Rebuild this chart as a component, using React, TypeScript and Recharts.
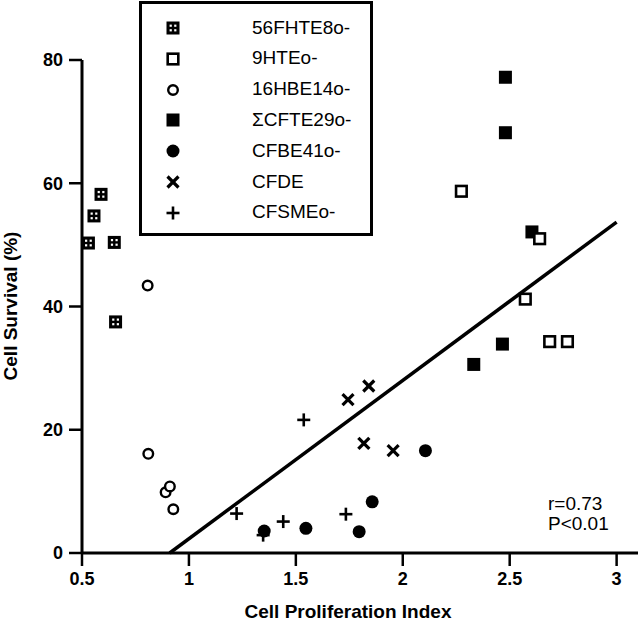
import React from 'react';
import { ScatterChart, Scatter, XAxis, YAxis, ReferenceLine, Legend, Customized } from 'recharts';

// cell lines, in legend order
const seriesNames = ['56FHTE8o-', '9HTEo-', '16HBE14o-', '\u03A3CFTE29o-', 'CFBE41o-', 'CFDE', 'CFSMEo-'];
const seriesKinds = ['grid', 'openSquare', 'openCircle', 'square', 'circle', 'cross', 'plus'];

const fhteX = [0.589, 0.556, 0.53, 0.651, 0.657];
const fhteY = [58.2, 54.7, 50.3, 50.4, 37.5];

const hteX = [2.274, 2.64, 2.573, 2.687, 2.77];
const hteY = [58.7, 51.0, 41.2, 34.3, 34.3];

const hbeX = [0.807, 0.81, 0.891, 0.911, 0.927];
const hbeY = [43.4, 16.1, 9.85, 10.8, 7.1];

const cfteX = [2.48, 2.48, 2.604, 2.466, 2.332];
const cfteY = [77.2, 68.2, 52.1, 33.9, 30.6];

const cfbeX = [1.352, 1.547, 1.796, 1.857, 2.106];
const cfbeY = [3.57, 4.0, 3.46, 8.3, 16.6];

const cfdeX = [1.744, 1.841, 1.818, 1.955];
const cfdeY = [24.9, 27.1, 17.8, 16.6];

const cfsmeX = [1.537, 1.223, 1.441, 1.347, 1.734];
const cfsmeY = [21.6, 6.4, 5.1, 2.9, 6.3];

// regression line end points
const fitX = [0.91, 3.0];
const fitY = [0, 53.7];

const xTicks = [0.5, 1, 1.5, 2, 2.5, 3];
const yTicks = [0, 20, 40, 60, 80];

const toPoints = (xs: number[], ys: number[]) => xs.map((x, i) => ({ x, y: ys[i] }));

const FONT = '"Liberation Sans", Arial, Helvetica, sans-serif';

const Marker = ({ kind, cx, cy }: { kind: string; cx: number; cy: number }) => {
  switch (kind) {
    case 'grid':
      return (
        <g>
          <rect x={cx - 6.5} y={cy - 6.5} width={13} height={13} fill="#000" />
          {[-1, 1].map((i) =>
            [-1, 1].map((j) => (
              <rect key={`${i}${j}`} x={cx + i * 2.3 - 1.1} y={cy + j * 2.3 - 1.1} width={2.2} height={2.2} fill="#fff" />
            ))
          )}
        </g>
      );
    case 'openSquare':
      return <rect x={cx - 5.3} y={cy - 5.3} width={10.6} height={10.6} fill="#fff" stroke="#000" strokeWidth={2.6} />;
    case 'openCircle':
      return <circle cx={cx} cy={cy} r={4.8} fill="#fff" stroke="#000" strokeWidth={2.4} />;
    case 'square':
      return <rect x={cx - 6.5} y={cy - 6.5} width={13} height={13} fill="#000" />;
    case 'circle':
      return <circle cx={cx} cy={cy} r={6.5} fill="#000" />;
    case 'cross':
      return (
        <g stroke="#000" strokeWidth={3.2}>
          <line x1={cx - 5.5} y1={cy - 5.5} x2={cx + 5.5} y2={cy + 5.5} />
          <line x1={cx - 5.5} y1={cy + 5.5} x2={cx + 5.5} y2={cy - 5.5} />
        </g>
      );
    default:
      return (
        <g stroke="#000" strokeWidth={2.6}>
          <line x1={cx - 6.5} y1={cy} x2={cx + 6.5} y2={cy} />
          <line x1={cx} y1={cy - 6.5} x2={cx} y2={cy + 6.5} />
        </g>
      );
  }
};

const shapeOf = (kind: string) => (p: any) => <Marker kind={kind} cx={p.cx} cy={p.cy} />;

const LegendBox = () => (
  <div
    style={{
      boxSizing: 'border-box',
      width: 234,
      height: 235,
      border: '3px solid #000',
      background: '#fff',
      paddingTop: 8.6,
      fontFamily: FONT,
      fontSize: 19,
      color: '#000',
    }}
  >
    {seriesNames.map((name, i) => (
      <div key={name} style={{ height: 30.8, display: 'flex', alignItems: 'center', position: 'relative' }}>
        <svg width={20} height={20} style={{ position: 'absolute', left: 21 }}>
          <Marker kind={seriesKinds[i]} cx={10} cy={10} />
        </svg>
        <span style={{ position: 'absolute', left: 110, lineHeight: '30.8px' }}>{name}</span>
      </div>
    ))}
  </div>
);

const Notes = () => (
  <g fontFamily={FONT} fill="#000">
    <text x={348} y={618} textAnchor="middle" fontSize={19} fontWeight="bold">
      Cell Proliferation Index
    </text>
    <text x={10} y={306} textAnchor="middle" dominantBaseline="central" fontSize={19} fontWeight="bold" transform="rotate(-90 10 306)">
      Cell Survival (%)
    </text>
    <text x={548} y={510} fontSize={19}>r=0.73</text>
    <text x={548} y={530} fontSize={19}>P&lt;0.01</text>
  </g>
);

const App = () => {
  const tick = { fill: '#000', fontSize: 18, fontWeight: 'bold', fontFamily: FONT };
  return (
    <div style={{ position: 'absolute', left: 0, top: 0, background: '#fff' }}>
      <ScatterChart width={640} height={623} margin={{ top: 60, right: 2, left: 0, bottom: 0 }}>
        <XAxis
          type="number"
          dataKey="x"
          domain={[0.5, 3.1]}
          ticks={xTicks}
          allowDataOverflow
          height={70}
          tickSize={13}
          tickMargin={6}
          axisLine={{ stroke: '#000', strokeWidth: 3 }}
          tickLine={{ stroke: '#000', strokeWidth: 2.5 }}
          tick={tick}
        />
        <YAxis
          type="number"
          dataKey="y"
          domain={[0, 80]}
          ticks={yTicks}
          width={82}
          tickSize={13}
          tickMargin={6}
          axisLine={{ stroke: '#000', strokeWidth: 3 }}
          tickLine={{ stroke: '#000', strokeWidth: 2.5 }}
          tick={tick}
        />
        <ReferenceLine
          segment={[{ x: fitX[0], y: fitY[0] }, { x: fitX[1], y: fitY[1] }]}
          stroke="#000"
          strokeWidth={3.5}
          ifOverflow="visible"
        />
        <Scatter name={seriesNames[0]} data={toPoints(fhteX, fhteY)} shape={shapeOf('grid')} isAnimationActive={false} />
        <Scatter name={seriesNames[3]} data={toPoints(cfteX, cfteY)} shape={shapeOf('square')} isAnimationActive={false} />
        <Scatter name={seriesNames[1]} data={toPoints(hteX, hteY)} shape={shapeOf('openSquare')} isAnimationActive={false} />
        <Scatter name={seriesNames[2]} data={toPoints(hbeX, hbeY)} shape={shapeOf('openCircle')} isAnimationActive={false} />
        <Scatter name={seriesNames[6]} data={toPoints(cfsmeX, cfsmeY)} shape={shapeOf('plus')} isAnimationActive={false} />
        <Scatter name={seriesNames[4]} data={toPoints(cfbeX, cfbeY)} shape={shapeOf('circle')} isAnimationActive={false} />
        <Scatter name={seriesNames[5]} data={toPoints(cfdeX, cfdeY)} shape={shapeOf('cross')} isAnimationActive={false} />
        <Customized component={Notes} />
        <Legend
          layout="vertical"
          align="center"
          verticalAlign="middle"
          content={() => <LegendBox />}
          wrapperStyle={{ left: 139, top: 1, width: 234, height: 235 }}
        />
      </ScatterChart>
    </div>
  );
};

export default App;
